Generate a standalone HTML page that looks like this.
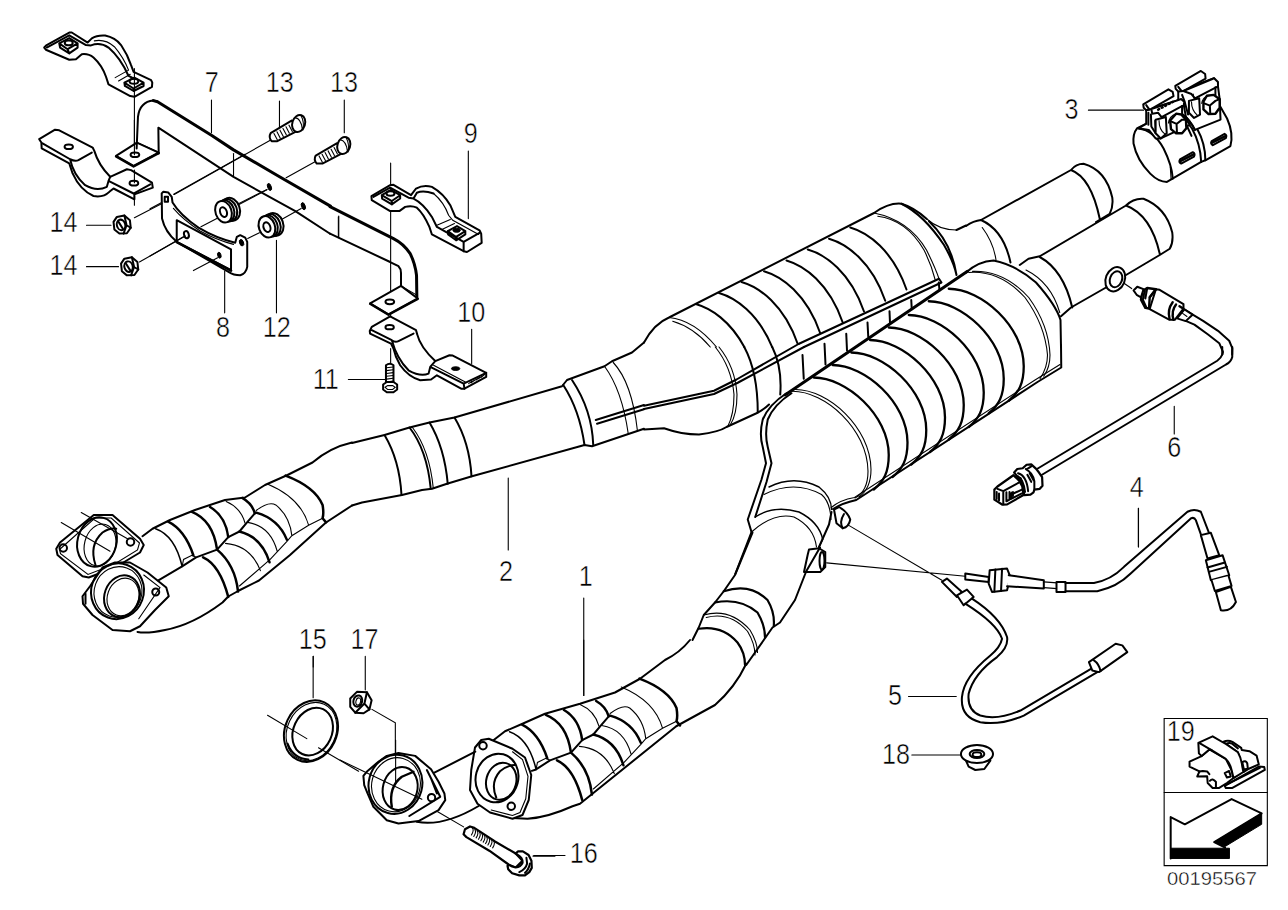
<!DOCTYPE html>
<html><head><meta charset="utf-8"><title>Exhaust system diagram</title>
<style>
html,body{margin:0;padding:0;background:#fff;}
body{width:1288px;height:910px;overflow:hidden;position:relative;font-family:"Liberation Sans",sans-serif;}
svg{position:absolute;left:0;top:0;display:block;}
svg path,svg ellipse,svg circle,svg line,svg polyline,svg polygon,svg rect{vector-effect:non-scaling-stroke;}
.k{fill:none;stroke:#000;stroke-width:2;stroke-linejoin:round;stroke-linecap:round;}
.w{fill:#fff;stroke:#000;stroke-width:2;stroke-linejoin:round;stroke-linecap:round;}
.t{fill:none;stroke:#000;stroke-width:1.1;stroke-linecap:round;}
.b{fill:#000;stroke:#000;stroke-width:1;}
text{font-family:"Liberation Sans",sans-serif;font-size:28.6px;fill:#000;stroke:#fff;stroke-width:0.5px;}
</style></head>
<body>
<svg width="1288" height="910" viewBox="0 0 1288 910">
<rect x="0" y="0" width="1288" height="910" fill="#fff" stroke="none"/>
<!--PIPES-->
<!--Q1: region 966,120 4x : outlet pipes, sensor 6 head -->
<g transform="translate(966,120) scale(0.25)">
<path class="k" d="M60,400 L420,200 Q500,230 535,395 M420,200 Q440,175 470,175 Q560,200 585,310 Q590,345 575,375 L520,408"/>
<path class="k" d="M0,424 Q30,403 60,400 Q150,440 178,570"/>
<path class="t" d="M65,430 Q110,490 120,560"/>
<path class="k" d="M215,580 L250,555 L295,545 L640,342 Q740,380 775,535 M640,342 Q670,312 710,315 Q800,350 825,450 Q830,490 815,515 L775,540 L640,620 M560,670 L420,750 L380,785"/>
<path class="k" d="M295,548 Q390,600 425,750"/>
<path class="t" d="M240,600 Q340,650 375,770"/>
<ellipse class="w" cx="597" cy="637" rx="38" ry="50" transform="rotate(22 597 637)"/>
<ellipse class="k" cx="600" cy="637" rx="24" ry="33" transform="rotate(22 600 637)"/>
<path class="k" d="M0,610 Q50,565 110,562 Q200,580 280,650 Q360,740 378,800 L380,908"/>
<!-- sensor 6 -->
</g>
<g transform="translate(1100,260) scale(0.12422)">
<path class="t" d="M190,185 L255,230"/>
<path class="k" d="M680,400 L740,435 L830,490 L950,570 L1040,650 L1065,710 L1064,760 M690,490 L760,520 L870,600 L960,670 L990,740 L985,760"/>
<path class="w" d="M620,470 L690,492 L745,440 L680,398 Z"/>
<path class="w" d="M450,235 L480,240 L672,355 L672,392 L602,482 L560,482 L400,395 Z"/>
<path class="k" style="stroke-width:2.4" d="M585,340 Q540,400 560,475 M612,358 Q570,412 592,482 M640,372 L672,392"/>
<path class="t" d="M600,380 Q580,410 590,440 M665,430 L700,455"/>
<path class="w" style="stroke-width:2.4" d="M340,250 L380,225 L450,235 L400,300 L395,390 L365,385 L330,320 Z"/>
<path class="k" d="M360,245 L345,320 L375,385 M380,228 L365,310 M400,300 L450,235"/>
<path class="w" d="M270,245 L300,215 L350,235 L330,300 L295,280 Z"/>
</g>
<!--C3: region 1050,50 6x : clamp 3 -->
<g transform="translate(1050,50) scale(0.167055)">
<path class="w" d="M520,470 Q495,500 500,560 Q520,660 600,740 Q650,790 700,790 L905,670 L930,660 L1080,575 Q1100,500 1060,410 L1020,340 L830,400 L580,440 Z"/>
<path class="k" style="stroke-width:2" d="M530,470 Q620,480 680,590 Q730,690 735,770"/>
<path class="t" d="M720,700 L725,775"/>
<path class="k" d="M905,670 Q900,560 850,470 L820,430 M930,660 Q930,560 880,470 Q860,430 830,400"/>
</g>
<g transform="translate(1130,65) scale(0.0854)">
<!-- right bracket -->
<path class="w" d="M565,310 L565,420 L620,580 Q700,640 760,760 L1060,640 L1050,400 L1030,250 L985,155 Z"/>
<path class="w" d="M530,245 L830,70 L880,105 L885,160 L625,305 L565,310 L535,280 Z"/>
<path class="w" d="M625,305 L985,155 L1030,200 L1030,250 L760,390 L720,340 Z"/>
<path class="k" d="M565,255 L600,300 M610,350 L640,430 L680,580 M1000,260 L1000,390"/>
<path class="w" d="M690,420 L810,390 L820,580 L750,620 L690,560 Z"/>
<path class="t" d="M720,430 Q720,530 790,590 M740,340 L750,390"/>
<path class="w" style="stroke-width:2.4" d="M860,430 L900,360 L980,350 L1050,400 L1050,500 L1000,570 L920,575 L860,520 Z"/>
<path class="k" d="M935,475 L1000,420 L1050,400 M935,475 L870,450 M935,475 L940,570"/>
<path class="t" d="M840,450 Q850,380 910,362"/>
<!-- left bracket -->
<path class="w" d="M190,530 L190,690 L100,740 L220,760 L300,860 L360,860 L700,700 L660,640 L630,470 L600,400 Z"/>
<path class="w" d="M155,460 L450,285 L500,315 L510,365 L250,515 L190,530 L160,500 Z"/>
<path class="w" d="M250,515 L600,400 L635,430 L630,470 L370,610 L330,560 L260,570 Z"/>
<path class="k" style="stroke-width:2.6;stroke-dasharray:1 3" d="M330,522 L500,432"/>
<path class="k" d="M190,470 L225,520 M215,560 L215,700 M245,580 L250,720 L300,800 M610,480 L610,570"/>
<path class="w" d="M300,640 L420,610 L430,800 L360,860 L300,800 Z"/>
<path class="t" d="M340,650 Q340,760 410,810 M290,650 L295,760"/>
<path class="w" style="stroke-width:2.4" d="M470,650 L540,570 L600,580 L655,640 L660,740 L610,800 L540,800 L480,750 Z"/>
<path class="k" d="M545,690 L610,640 L655,640 M545,690 L480,660 M545,690 L550,795"/>
<path class="t" d="M450,680 Q460,600 540,572"/>
<path class="k" d="M620,580 Q700,640 760,760 M660,700 L720,830"/>
</g>
<g transform="translate(1050,50) scale(0.167055)">
<path class="k" style="stroke-width:2.5" d="M780,665 L860,625 M970,555 L1050,515"/>
<path class="k" d="M778,655 L855,612 Q872,620 862,638 L785,680 Q768,672 778,655 Z M968,545 L1045,502 Q1062,510 1052,528 L975,570 Q958,562 968,545 Z"/>
<path class="t" d="M230,360 L560,360"/>
</g>
<!--Q2: region 644,120 4x : upper cat body -->
<g transform="translate(644,120) scale(0.25)">
<path class="k" d="M0,890 Q40,815 100,790 L920,372 Q980,330 1030,335 Q1080,350 1130,395"/>
<path class="t" d="M1130,395 Q1180,440 1250,440"/>
<path class="k" d="M1250,440 L1288,422 M1030,335 Q1120,380 1200,500 Q1240,570 1250,620 M1140,405 Q1230,490 1250,620"/>
<path class="t" d="M920,372 Q1060,400 1130,520 Q1165,590 1180,635 M935,385 Q1050,400 1120,520 Q1150,580 1165,640"/>
<path class="t" d="M100,790 Q200,800 290,908 M115,805 Q200,830 265,908"/>
<path class="k" style="stroke-width:2" d="M210,737 c57.4,16.4 135,66.4 191.3,171 M300,692 c65.1,18.6 156.1,80.4 212.8,216.1 M390,648 c70,20 170,90 225,248 M480,605 c70,20 170,90 225,248 M570,562 c70,20 170,90 225,248 M655,518 c70,20 170,90 225,248 M740,475 c70,20 170,90 225,248 M825,430 c70,20 170,90 225,248"/>
<path class="k" d="M620,895 L1180,635 L1190,650 L640,908"/>
</g>

<!--LC: region 760,250 4x : lower cat body -->
<g transform="translate(760,250) scale(0.25)">
<path class="k" style="stroke-width:3" d="M100,580 L830,85"/>
<path class="k" d="M170,420 L175,515 M258,375 L262,458 M345,335 L348,402 M430,290 L433,347 M518,245 L520,292 M605,200 L607,237 M715,130 L718,162"/>
<path class="k" style="stroke-width:2.3" d="M755,155 c130,0 300,150 300,310 c0,70 -20,105 -60,138 M675,205 c130,0 300,150 300,310 c0,70 -20,105 -60,138 M595,260 c130,0 300,150 300,310 c0,70 -20,105 -60,138 M515,310 c130,0 300,150 300,310 c0,70 -20,105 -60,138 M440,360 c130,0 300,150 300,310 c0,70 -20,105 -60,138 M365,410 c130,0 300,150 300,310 c0,70 -20,105 -60,138 M290,460 c130,0 300,150 300,310 c0,70 -20,105 -60,138 M215,510 c130,0 300,150 300,310 c0,70 -20,105 -60,138"/>
<path class="t" d="M130,565 c130,0 300,150 302,320 c0,60 -20,90 -52,107 M142,558 c130,0 300,150 302,320 c0,60 -20,90 -48,110"/>
<path class="t" d="M835,90 Q960,80 1060,190 Q1140,300 1150,420 Q1150,470 1120,515 M850,85 Q975,80 1075,190 Q1155,300 1160,420 Q1160,470 1135,505"/>
<path class="k" d="M1204,380 L1205,470 L1110,528 L385,1000 Q330,1012 292,1036"/>
<path class="t" d="M1200,458 L1100,520 L378,990 Q320,1000 285,1030"/>
</g>
<!--Q3: region 644,347 4x : cat fronts -->
<g transform="translate(644,347) scale(0.25)">
<path class="k" d="M0,235 L280,175 L370,130 L620,-13 M0,248 L280,188 L375,143 L640,0"/>
<path class="k" d="M0,330 L80,325 Q150,350 220,350 Q300,340 330,320 L450,265 Q480,250 500,230"/>
<path class="t" d="M285,0 Q350,80 360,190 Q360,270 335,318 M300,0 Q365,80 372,190 Q372,270 345,312"/>
<path class="k" d="M401,0 Q455,100 455,262 M513,0 Q553,80 545,190"/>
<path class="k" d="M570,185 Q500,230 475,290 Q460,350 475,400 L488,465 L470,530 L415,690 L430,740 M590,185 Q520,230 495,290 Q482,350 495,400 L510,465 L490,540 L445,680"/>
<path class="k" style="stroke-width:1.4" d="M500,560 Q600,510 700,560 Q750,600 750,650 M445,680 Q520,630 620,660 Q700,700 715,770 L700,800"/>
<path class="t" d="M480,590 Q600,530 710,590 Q745,620 748,690 M430,740 Q520,660 600,680 Q680,720 690,800"/>
<path class="k" d="M430,740 L365,908 M750,660 L740,710 L700,800"/>
<path class="w" d="M760,650 L780,640 Q815,660 825,690 Q820,720 795,725 L770,705 Z"/>
<path class="k" d="M795,725 Q780,700 800,668"/>
<path class="w" d="M660,810 L700,805 L725,820 L725,880 L705,900 L640,900 L655,830 Z"/>
<ellipse class="k" cx="712" cy="855" rx="10" ry="35"/>
</g>
<!--Q4: region 966,347 4x : lower cat end, cable 6, label 6/4 -->
<g transform="translate(966,347) scale(0.25)">
<path class="k" d="M1065,0 L1065,40 Q1060,60 1040,70 L304,511 M1025,0 L1025,30 Q1020,45 1005,55 L287,486"/>
<path class="t" d="M833,237 L833,348 M690,645 L690,800"/>
</g>
<!--C6: connector 6, region 980,450 12.88x -->
<g transform="translate(980,450) scale(0.07764)">
<path class="w" style="stroke-width:2.2" d="M440,290 L480,245 L550,235 L600,190 L660,185 L720,240 L760,290 L800,350 L805,460 L770,500 L700,510 L690,545 L650,575 L570,580 L540,420 Z"/>
<path class="k" d="M590,245 Q680,290 700,400 L700,500 M490,300 Q600,330 620,530 M490,340 Q560,380 580,540 M600,250 L660,210 M640,300 L690,390 M610,320 L660,410"/>
<path class="w" style="stroke-width:2.2" d="M185,510 L225,470 L430,325 L505,395 L545,470 L560,580 L350,700 L290,705 L185,640 Z"/>
<path class="k" d="M225,500 L300,530 L300,700 M300,530 L500,420 M340,545 L340,660 L380,640 L380,540 M400,560 L400,630 L540,560 M430,560 L540,510 M215,540 L215,630 M245,560 L245,650 M520,360 L560,470"/>
<path class="b" d="M400,545 L430,535 L430,600 L400,610 Z"/>
</g>
<!--S1: region 840,480 3x : sensors 4,5, nut 18 -->
<g transform="translate(840,480) scale(0.33411)">
<path class="t" d="M25,135 L305,300 M-40,248 L375,288"/>
<path class="w" d="M375,280 L445,290 L445,305 L375,298 Z"/>
<path class="w" style="stroke-width:2" d="M448,270 L500,265 L510,290 L500,330 L455,335 L445,310 Z"/>
<path class="k" d="M465,268 L462,334 M485,266 L482,332"/>
<path class="w" d="M505,285 L610,300 L610,325 L500,318"/>
<path class="t" d="M610,305 L650,308 M610,322 L650,325"/>
<rect class="w" x="648" y="305" width="27" height="30"/>
<path class="k" d="M675,308 L760,308 Q810,300 850,260 L1040,95 Q1060,85 1080,95 L1105,160 M675,333 L770,333 Q830,320 870,280 L1050,115 Q1060,110 1065,120 L1082,168"/>
<path class="w" d="M1080,165 L1110,158 L1135,225 L1100,235 Z"/>
<path class="w" style="stroke-width:2" d="M1095,240 L1145,225 L1165,285 L1110,300 Z"/>
<path class="k" d="M1100,262 L1152,247 M1104,275 L1158,260"/>
<path class="w" d="M1112,300 L1122,332 L1172,317 L1163,287"/>
<path class="w" d="M1125,335 L1170,320 L1185,365 Q1170,395 1140,390 Z"/>
<path class="t" d="M893,85 L893,200"/>
<!-- sensor 5 -->
<path class="w" d="M305,305 L320,295 L365,335 L350,350 Z"/>
<path class="w" d="M350,345 L380,328 L400,350 L370,375 Z"/>
<path class="k" d="M395,355 Q480,410 500,470 Q505,500 470,530 Q400,580 385,640 Q380,690 420,705 Q470,720 540,690 L760,560 M375,370 Q470,430 485,475 Q480,500 450,525 Q370,590 365,650 Q360,710 420,725 Q480,735 550,705 L770,575"/>
<path class="w" d="M745,545 L825,490 L845,495 L860,515 L775,575 L755,570 Z"/>
<path class="k" d="M760,540 Q775,550 780,572"/>
<path class="t" d="M205,648 L348,648 M215,823 L362,823"/>
<!-- nut 18 -->
<path class="w" d="M375,835 L385,858 L405,868 L432,865 L450,840 Z"/>
<ellipse class="w" cx="410" cy="820" rx="48" ry="27"/>
<ellipse class="k" cx="410" cy="820" rx="22" ry="12"/>
<ellipse class="k" cx="410" cy="822" rx="13" ry="7"/>
</g>
<!--Q5: region 322,300 4x : pipe 2 middle -->
<g transform="translate(322,300) scale(0.25)">
<path class="k" d="M120,572 L250,540 L350,510 L430,490 L530,470 L960,345 L980,320 L1130,265 L1160,245 L1240,210 L1288,170"/>
<path class="k" d="M120,822 L160,810 L320,780 L400,760 L440,755 L500,735 L600,705 L1050,580 L1080,585 L1288,515"/>
<path class="k" d="M250,540 Q310,640 318,780 M350,510 Q420,600 435,755 M430,490 Q490,590 503,735 M530,470 Q590,570 598,705"/>
<path class="t" d="M362,510 Q430,600 445,752"/>
<path class="k" d="M965,340 Q1030,440 1050,580 M1000,320 Q1080,440 1085,580"/>
<path class="t" d="M1130,265 Q1200,360 1225,535 M1165,250 Q1240,330 1262,525"/>
<path class="k" d="M1095,480 L1288,420 M1100,495 L1288,437"/>
<path class="t" d="M745,712 L745,1000"/>
</g>
<!--Q6: region 30,440 4x : pipe 2 front with flanges -->
<g transform="translate(30,440) scale(0.25)">
<path class="k" d="M1288,10 Q1200,30 1130,90 L1030,140 L940,180 L860,230 L780,240 L660,280 L560,320 L490,355 L450,385"/>
<path class="k" d="M1288,262 L1184,330 L1039,461 L916,562 L838,601 L793,626 L770,650 Q650,740 540,760 Q470,775 430,768"/>
<!-- flange 1 -->
<path class="w" style="stroke-width:2" d="M105,435 L120,410 L255,300 L330,300 L440,395 L455,420 L440,450 L340,510 L235,550 L210,545 L110,460 Z"/>
<path class="t" d="M118,438 L260,312 L325,312 L438,412 L430,440 L335,498 L232,538 L122,455 Z"/>
<circle class="k" cx="133" cy="432" r="15"/><circle class="k" cx="402" cy="408" r="15"/>
<ellipse class="k" cx="268" cy="408" rx="78" ry="100" transform="rotate(15 268 408)"/>
<ellipse class="t" cx="280" cy="420" rx="62" ry="85" transform="rotate(15 280 420)"/>
<path class="k" d="M262,500 Q235,420 290,370 Q320,350 345,355"/>
<path class="t" d="M205,290 L390,395 M125,330 L320,445"/>
<!-- flange 2 -->
<path class="w" style="stroke-width:2" d="M210,625 L240,585 L290,510 L340,490 L400,490 L470,530 L545,590 L555,625 L500,680 L440,745 L400,765 L330,760 L250,700 L212,655 Z"/>
<ellipse class="k" cx="350" cy="605" rx="105" ry="112" transform="rotate(20 350 605)"/>
<ellipse class="t" cx="352" cy="608" rx="95" ry="102" transform="rotate(20 352 608)"/>
<ellipse class="k" cx="368" cy="625" rx="70" ry="85" transform="rotate(20 368 625)"/>
<ellipse class="t" cx="372" cy="628" rx="62" ry="77" transform="rotate(20 372 628)"/>
<circle class="k" cx="503" cy="608" r="14"/>
<path class="k" d="M222,615 L222,655"/>
<path class="t" d="M1133,865 L1133,908 M455,540 L520,590 L435,715"/>
</g>
<!--Y2: region 150,470 7.16x : pipe 2 Y-section ribs -->
<g transform="translate(150,470) scale(0.13975)">
<path class="k" d="M60,790 L230,690 L330,625 L480,570 L560,480 L640,440 L690,380 L750,310"/>
<path class="t" d="M230,690 L240,640 L300,610 L330,625"/>
<path class="k" style="stroke-width:2.5" d="M130,370 Q250,430 310,610 M300,300 Q450,360 480,570 M430,265 Q540,330 560,480 M660,200 Q730,240 750,310 M380,625 Q500,680 560,908 M480,570 Q610,680 630,870 M640,440 Q800,480 855,660 M760,305 Q920,350 980,500 M970,40 Q1180,120 1235,250 Q1245,310 1235,345 L1260,375"/>
<path class="k" style="stroke-width:1.5" d="M40,420 Q180,470 230,690"/>
<path class="t" d="M545,225 Q650,270 680,380 M540,525 Q720,540 790,720 M700,375 Q860,400 910,580 M760,290 Q850,220 900,250 Q1000,330 1015,470 M840,100 Q1080,200 1135,395 M640,830 L860,640 L980,510 L1015,470 L1135,395 L1235,345"/>
</g>
<!--Y1: region 500,680 7.16x : pipe 1 Y-section ribs (same geometry as Y2 shifted) -->
<g transform="translate(500,680) scale(0.13975) translate(28,-50)">
<path class="k" d="M200,700 L230,690 L330,625 L480,570 L560,480 L640,440 L690,380 L750,310"/>
<path class="t" d="M230,690 L240,640 L300,610 L330,625"/>
<path class="k" style="stroke-width:2.5" d="M130,370 Q250,430 310,610 M300,300 Q450,360 480,570 M430,265 Q540,330 560,480 M660,200 Q730,240 750,310 M380,625 Q500,680 560,908 M480,570 Q610,680 630,870 M640,440 Q800,480 855,660 M760,305 Q920,350 980,500 M970,40 Q1180,120 1235,250 Q1245,310 1235,345 L1260,375"/>
<path class="k" style="stroke-width:1.5" d="M40,420 Q180,470 230,690"/>
<path class="t" d="M545,225 Q650,270 680,380 M540,525 Q720,540 790,720 M700,375 Q860,400 910,580 M760,290 Q850,220 900,250 Q1000,330 1015,470 M840,100 Q1080,200 1135,395 M640,830 L860,640 L980,510 L1015,470 L1135,395 L1235,345"/>
</g>
<!--Q8: region 560,500 4x : pipe 1 middle -->
<g transform="translate(560,500) scale(0.25)">
<path class="k" d="M770,130 L700,300 L655,365 L620,410 L575,460 L555,510 L530,560"/>
<path class="k" d="M1040,190 L985,285 L940,400 L880,490 L850,510 L745,660"/>
<path class="k" style="stroke-width:2.2" d="M655,365 Q760,330 830,400 Q860,450 855,505 M620,410 Q720,390 790,450 Q820,500 820,550 M555,515 Q650,500 710,570 Q740,610 740,660"/>
<path class="t" d="M575,460 Q680,430 760,520 Q790,570 790,610 M585,470 Q680,445 750,525 Q780,575 780,620"/>
<path class="t" d="M95,392 L95,782"/>
</g>
<!--Q7: region 440,640 4x : pipe 1 front -->
<g transform="translate(440,640) scale(0.25)">
<path class="k" d="M1000,0 Q960,50 900,80 L800,155 L700,210 L560,255 L420,295 L330,335 L260,365 L215,400"/>
<path class="k" d="M1225,95 Q1180,190 1100,260 L945,345 L560,655 L530,665 Q430,710 350,715 L290,712"/>
<!-- flange right -->
<path class="w" style="stroke-width:2" d="M140,430 L165,400 L195,395 L290,435 L340,470 L365,540 L355,640 L330,700 L290,715 L200,690 L150,655 L120,600 L125,520 Z"/>
<path class="t" d="M290,447 L330,478 L352,545 L343,635 L320,690 L290,702 L205,680"/>
<circle class="k" cx="172" cy="423" r="15"/><circle class="k" cx="285" cy="665" r="15"/>
<ellipse class="k" cx="228" cy="552" rx="85" ry="98" transform="rotate(15 228 552)"/>
<ellipse class="k" cx="245" cy="565" rx="60" ry="75" transform="rotate(15 245 565)"/>
<path class="k" d="M225,630 Q200,570 240,525 Q270,500 300,500"/>
<path class="t" d="M575,0 L575,222 M375,862 L500,862"/>
</g>
<!--R1: region 30,20 6x-->
<g transform="translate(30,20) scale(0.167055)">
<path class="w" d="M85,165 L100,150 L235,75 L250,75 L345,135 L370,110 Q400,90 450,93 Q510,105 545,150 Q585,210 605,270 L620,310 L725,360 L732,375 L730,400 L625,460 L600,455 L470,385 L455,340 Q430,270 380,225 Q350,200 310,205 L275,235 L235,238 L95,178 Z"/>
<path class="k" d="M100,165 L235,92 L335,150 L365,152 Q420,130 470,165 Q540,225 590,335 L620,350"/>
<path class="t" d="M385,125 Q450,112 505,160 Q560,225 590,300 M510,345 L590,300 M530,365 L600,325"/>
<path class="k" d="M175,140 L235,108 L285,140 L225,175 Z M175,140 L180,165 L235,200 L225,175 M235,200 L285,165 L285,140"/>
<ellipse class="k" cx="232" cy="137" rx="24" ry="14"/>
<path class="k" d="M565,375 L625,345 L680,375 L620,410 Z M565,375 L568,395 L620,425 L620,410 M620,425 L680,395 L680,375"/>
<ellipse class="k" cx="622" cy="367" rx="26" ry="15"/>
<path class="t" d="M625,290 L625,800"/>
</g>
<!--R2: region 30,120 6x-->
<g transform="translate(30,120) scale(0.167055)">
<path class="w" d="M55,115 L150,58 L175,62 L375,165 L385,185 Q410,270 480,340 L580,295 L605,300 L730,375 L735,405 L625,445 L625,475 L500,410 L475,430 Q440,465 380,455 Q300,420 255,320 L235,260 L70,170 L68,135 Z"/>
<path class="k" d="M75,140 L240,235 Q270,250 290,240 L370,195 M240,235 Q260,330 330,390 Q400,430 460,400 L470,365 L480,340 M470,365 L620,440 L720,385"/>
<ellipse class="k" cx="232" cy="160" rx="25" ry="14"/>
<ellipse class="k" cx="622" cy="378" rx="26" ry="14"/>
<path class="t" d="M625,300 L625,375 M625,445 L625,510"/>
</g>
<!--R2b: bracket 7 foot etc, region 30,120 6x-->
<g transform="translate(30,120) scale(0.167055)">
<path class="w" d="M515,215 L640,135 L770,195 L620,275 Z"/>
<path class="k" style="stroke-width:2.4" d="M515,218 L620,278 L770,198"/>
<ellipse class="k" cx="628" cy="208" rx="26" ry="14"/>
<path class="t" d="M640,135 L760,188 M625,0 L625,208"/>
</g>
<!--R3: region 150,60 6x : bar, bolts 13-->
<g transform="translate(150,60) scale(0.167055)">
<path class="k" d="M-80,530 L-72,340 Q-60,250 20,243 L45,248"/>
<path class="k" style="stroke-width:3" d="M20,243 L45,250 L370,452 L500,538 L760,690 L1080,875"/>
<path class="k" style="stroke-width:2" d="M52,560 L50,405 L500,700 L870,905 L1078,1040"/>
<path class="t" d="M500,560 L500,695"/>
<!-- bolt 1 -->
<path class="w" d="M850,362 L722,438 Q708,462 728,486 L762,486 L882,424 Z"/>
<path class="t" d="M742,440 L762,478 M760,430 L780,468 M778,420 L798,458 M796,410 L816,448 M814,400 L834,438 M832,390 L852,428"/>
<ellipse class="w" cx="890" cy="380" rx="38" ry="52" transform="rotate(18 890 380)"/>
<path class="t" d="M868,345 Q905,350 912,415 M905,335 Q925,370 915,420"/>
<!-- bolt 2 -->
<path class="w" d="M1120,498 L992,572 Q978,596 998,620 L1032,620 L1152,558 Z"/>
<path class="t" d="M1012,574 L1032,612 M1030,564 L1050,602 M1048,554 L1068,592 M1066,544 L1086,582 M1084,534 L1104,572 M1102,524 L1122,562"/>
<ellipse class="w" cx="1160" cy="512" rx="38" ry="52" transform="rotate(18 1160 512)"/>
<path class="t" d="M1138,477 Q1175,482 1182,547 M1175,467 Q1195,502 1185,552"/>
<path class="t" d="M368,240 L368,435 M775,245 L775,405 M1163,240 L1163,435 M720,480 L145,805 M985,610 L815,705 M700,775 L530,860"/>
<ellipse class="b" cx="715" cy="760" rx="11" ry="22" transform="rotate(-20 715 760)"/>
<ellipse class="b" cx="918" cy="875" rx="11" ry="22" transform="rotate(-20 918 875)"/>
</g>
<!--R4: region 150,160 6x : plate 8, grommets-->
<g transform="translate(150,160) scale(0.167055)">
<path class="w" d="M70,200 L80,190 L110,195 L130,220 L135,255 Q180,330 290,405 Q400,470 510,495 L520,460 L540,450 L570,465 L582,490 L582,640 Q575,680 540,690 Q500,690 470,670 L160,490 Q90,430 72,350 Z"/>
<path class="t" d="M140,290 Q200,360 300,425 Q400,480 500,505"/>
<path class="w" d="M160,360 L485,535 L485,660 L160,490 Z"/>
<path class="k" style="stroke-width:2.6" d="M160,492 L485,662"/>
<rect class="k" x="88" y="220" width="20" height="30"/>
<ellipse class="b" cx="548" cy="495" rx="12" ry="20" transform="rotate(-20 548 495)"/>
<ellipse class="k" cx="218" cy="447" rx="14" ry="22" transform="rotate(-15 218 447)"/>
<ellipse class="b" cx="415" cy="570" rx="10" ry="18" transform="rotate(-15 415 570)"/>
<!-- grommet 1 -->
<ellipse class="w" cx="485" cy="295" rx="52" ry="70" transform="rotate(-20 485 295)"/>
<ellipse class="w" cx="470" cy="300" rx="50" ry="68" transform="rotate(-20 470 300)"/>
<ellipse class="w" cx="455" cy="305" rx="48" ry="66" transform="rotate(-20 455 305)"/>
<ellipse class="w" cx="440" cy="310" rx="48" ry="66" transform="rotate(-20 440 310)"/>
<ellipse class="k" cx="440" cy="312" rx="20" ry="30" transform="rotate(-20 440 312)"/>
<!-- grommet 2 -->
<ellipse class="w" cx="745" cy="385" rx="52" ry="70" transform="rotate(-20 745 385)"/>
<ellipse class="w" cx="730" cy="390" rx="50" ry="68" transform="rotate(-20 730 390)"/>
<ellipse class="w" cx="715" cy="395" rx="48" ry="66" transform="rotate(-20 715 395)"/>
<ellipse class="w" cx="700" cy="400" rx="48" ry="66" transform="rotate(-20 700 400)"/>
<ellipse class="k" cx="700" cy="402" rx="20" ry="30" transform="rotate(-20 700 402)"/>
<path class="t" d="M1130,335 L1130,465 M0,292 L70,255 M305,400 L400,350 M530,268 L700,178 M585,470 L655,435 M790,355 L905,290 M0,575 L200,460 M260,662 L405,585 M447,665 L447,915 M757,480 L757,915"/>
</g>
<!--R5: region 330,110 6x : clamp 9 -->
<g transform="translate(330,110) scale(0.167055)">
<path class="w" d="M248,515 L360,450 L380,448 L485,510 L515,470 Q560,445 610,460 Q680,500 720,570 L750,640 L895,720 L905,740 L908,795 L820,850 L800,845 L610,745 L595,700 Q560,620 520,585 Q490,570 450,580 L415,605 L360,605 L250,540 Z"/>
<path class="k" d="M260,520 L360,465 L470,525 L500,530 Q560,560 610,640 L640,700 L800,790 L800,845 M800,790 L895,735 M500,530 L520,495 Q560,480 620,500"/>
<path class="t" d="M620,500 Q680,550 710,630 L735,660 L890,745 M640,690 L720,655 M670,715 L745,680"/>
<path class="k" d="M310,510 L365,478 L420,510 L370,545 Z M310,510 L312,530 L370,565 L370,545 M370,565 L420,530 L420,510"/>
<ellipse class="k" cx="362" cy="500" rx="24" ry="13"/>
<path class="k" d="M705,725 L760,695 L810,725 L755,760 Z M705,725 L707,745 L755,780 L755,760 M755,780 L810,745 L810,725"/>
<ellipse class="b" cx="758" cy="720" rx="22" ry="12"/>
<path class="t" d="M363,318 L363,450 M363,605 L363,1150 M828,245 L828,650 M50,640 L50,760"/>
<!-- bar right end -->
<path class="k" style="stroke-width:3" d="M0,578 L380,770 Q440,800 480,860 Q510,920 518,990 L520,1130"/>
<path class="k" style="stroke-width:2" d="M0,740 L360,910 L410,935 Q425,950 425,975 L425,1055"/>
</g>
<!--R6: region 330,250 6x : bar foot right, clamp 10, bolt 11 -->
<g transform="translate(330,250) scale(0.167055)">
<path class="w" d="M240,320 L425,215 L525,290 L350,385 Z"/>
<path class="k" style="stroke-width:2.4" d="M240,322 L350,388 L525,293"/>
<ellipse class="k" cx="358" cy="310" rx="26" ry="14"/>
<path class="t" d="M425,215 L520,270 M363,385 L363,465 M363,590 L363,680"/>
<path class="w" d="M238,485 L250,460 L360,398 L515,480 L522,505 Q540,580 630,665 L715,630 L735,632 L935,735 L935,760 L805,830 L785,830 L640,750 L605,775 L540,780 Q470,760 420,690 Q390,640 380,590 L365,560 L240,500 Z"/>
<path class="k" d="M250,480 L370,540 Q390,555 410,545 L500,500 M370,540 Q400,650 470,720 Q540,760 590,740 L600,700 L630,665 M600,700 L800,800 L805,830 M800,800 L935,735"/>
<path class="t" d="M620,690 L810,790 M830,800 L850,785 M845,795 L865,778 M860,785 L880,770 M875,778 L895,762 M890,770 L910,755 M905,762 L925,745"/>
<ellipse class="k" cx="357" cy="462" rx="25" ry="13"/>
<ellipse class="b" cx="752" cy="710" rx="25" ry="11"/>
<!-- bolt 11 -->
<path class="w" d="M335,690 Q358,672 380,690 L380,800 L335,800 Z"/>
<path class="t" d="M338,705 L378,700 M338,722 L378,717 M338,739 L378,734 M338,756 L378,751 M338,773 L378,768 M338,790 L378,785"/>
<path class="w" d="M318,805 L340,790 L380,790 L402,805 L402,835 L380,852 L340,852 L318,835 Z"/>
<path class="t" d="M330,822 L345,812 L375,812 L390,822 L375,835 L345,835 Z"/>
<path class="t" d="M848,475 L848,680 M110,775 L335,775"/>
</g>
<!--E1: region 250,620 6x : ring 15, nut 17 -->
<g transform="translate(250,620) scale(0.167055)">
<ellipse class="k" style="stroke-width:2" cx="365" cy="665" rx="155" ry="190" transform="rotate(25 365 665)"/>
<ellipse class="t" cx="368" cy="668" rx="145" ry="180" transform="rotate(25 368 668)"/>
<ellipse class="k" style="stroke-width:2" cx="375" cy="668" rx="115" ry="148" transform="rotate(25 375 668)"/>
<path class="k" d="M225,740 Q260,830 350,835"/>
<path class="t" d="M105,570 L340,710 M410,765 L650,905 M378,218 L378,465 M690,218 L690,418 M730,535 L870,615 L870,905"/>
<path class="w" style="stroke-width:2" d="M600,470 L640,430 L700,432 L728,480 L715,535 L680,558 L630,555 L600,520 Z"/>
<path class="k" d="M700,432 L685,500 L715,535 M685,500 L630,555"/>
<ellipse class="k" cx="645" cy="485" rx="26" ry="34" transform="rotate(15 645 485)"/>
<ellipse class="t" cx="648" cy="488" rx="14" ry="22" transform="rotate(15 648 488)"/>
</g>
<!--E2: region 340,740 6x : flange left of pipe 1, bolt 16 -->
<g transform="translate(340,740) scale(0.167055)">
<path class="k" d="M565,195 L810,70 M460,490 Q620,520 830,395"/>
<path class="w" style="stroke-width:2" d="M140,215 L165,185 L230,130 L280,95 L350,78 L450,95 L545,175 L590,250 L625,320 L630,360 L590,420 L470,485 L350,500 L280,480 L200,400 L165,320 L145,270 Z"/>
<ellipse class="k" cx="332" cy="265" rx="160" ry="178" transform="rotate(15 332 265)"/>
<ellipse class="t" cx="335" cy="268" rx="145" ry="163" transform="rotate(15 335 268)"/>
<ellipse class="k" cx="360" cy="290" rx="103" ry="130" transform="rotate(15 360 290)"/>
<path class="k" style="stroke-width:2.4" d="M310,400 Q290,280 370,220 L440,190"/>
<circle class="k" cx="548" cy="345" r="22"/>
<path class="k" d="M520,180 L600,340 L415,455 M545,230 L580,320"/>
<path class="t" d="M0,120 L490,355 M333,0 L333,260 M585,430 L740,520 M1155,695 L1287,695"/>
<!-- bolt 16 -->
</g>
<g transform="translate(455,815) scale(0.071429)">
<path class="w" style="stroke-width:2.2" d="M120,270 L140,200 L210,160 L270,180 L560,370 L850,540 L945,640 L850,735 L760,700 L480,500 L160,310 Z"/>
<path class="t" d="M245,185 q25,30 -15,95 M278,205 q25,30 -15,95 M311,225 q25,30 -15,95 M344,245 q25,30 -15,95 M377,265 q25,30 -15,95 M410,285 q25,30 -15,95 M443,305 q25,30 -15,95 M476,325 q25,30 -15,95 M509,345 q25,30 -15,95 M542,365 q25,30 -15,95"/>
<path class="w" style="stroke-width:2.2" d="M850,540 L880,510 L950,510 L1030,560 L1070,640 L1075,740 L1040,800 L980,845 L900,845 L800,815 L745,760 L735,710 L760,700 L800,720 L850,735 Q920,730 945,670 Q950,600 880,560 Z"/>
<path class="k" d="M1000,600 L1010,680 Q990,760 900,800 M1050,680 Q1030,770 980,810"/>
</g>
<!--B1: region 1150,705 : box 19 + arrow -->
<g transform="translate(1150,705) scale(0.21767)">
<rect class="t" x="65" y="62" width="474" height="676"/>
<path class="t" d="M65,402 L539,402"/>
<path class="b" d="M95,658 L365,658 L365,705 L95,705 Z"/>
<path class="b" d="M513,498 L513,548 L345,650 L295,630 Z"/>
<path class="k" d="M95,705 L95,515 L160,548 L375,432 L513,498 L295,630 L345,655"/>
<!-- clip 19 -->
</g>
<g transform="translate(1150,705) scale(0.10987)">
<path class="w" d="M360,515 L470,465 L540,405 L690,490 L745,600 L760,665 L700,710 L630,755 L570,755 L525,710 L520,648 L430,650 L450,605 L360,560 Z"/>
<path class="w" d="M665,335 Q710,315 750,335 L830,390 L835,410 L905,420 L970,460 L990,540 L900,580 L850,610 L800,430 Z"/>
<path class="k" d="M690,355 Q720,340 745,350 L800,395"/>
<path class="w" d="M840,520 Q870,500 885,530 L890,575 L855,590 Z"/>
<path class="w" d="M440,345 L570,285 L690,355 L800,430 Q830,480 840,560 L850,610 L760,665 L745,600 Q730,530 690,490 L560,410 L540,405 L470,465 L445,440 Z"/>
<path class="k" d="M455,350 L560,410 M450,605 L480,600 L520,605 L540,630 M545,690 Q570,660 600,700 L600,750"/>
<path class="w" d="M680,620 L720,600 L735,650 L700,660 Z"/>
<path class="w" d="M680,735 L990,560 L1040,565 L1045,590 L750,755 L690,755 Z"/>
<path class="k" d="M700,722 L1000,572"/>
</g>
<!--N14: nuts 14, region 30,120 6x -->
<g transform="translate(30,120) scale(0.167055)">
<path class="w" style="stroke-width:2" d="M500,610 L520,580 L565,572 L598,600 L603,645 L580,678 L535,680 L505,655 Z"/>
<ellipse class="k" cx="545" cy="628" rx="25" ry="32" transform="rotate(-15 545 628)"/>
<path class="k" d="M565,572 L578,630 L603,645 M578,630 L560,680 M530,610 L555,650"/>
<path class="w" style="stroke-width:2" d="M545,860 L565,830 L610,822 L643,850 L648,895 L625,928 L580,930 L550,905 Z"/>
<ellipse class="k" cx="590" cy="878" rx="25" ry="32" transform="rotate(-15 590 878)"/>
<path class="k" d="M610,822 L623,880 L648,895 M623,880 L605,930 M575,860 L600,900"/>
<path class="t" d="M338,630 L485,630 M338,878 L530,878 M625,585 L790,500 M655,850 L930,695 M860,445 L1287,205"/>
</g>
<!--TEXT-->
<text transform="translate(204.7,91.7) scale(0.88,1)">7</text>
<text transform="translate(265.7,91.7) scale(0.88,1)">13</text>
<text transform="translate(330.0,91.7) scale(0.88,1)">13</text>
<text transform="translate(49.6,231.6) scale(0.88,1)">14</text>
<text transform="translate(49.5,274.6) scale(0.88,1)">14</text>
<text transform="translate(215.9,337.4) scale(0.88,1)">8</text>
<text transform="translate(262.7,337.4) scale(0.88,1)">12</text>
<text transform="translate(312.7,389.2) scale(0.88,1)">11</text>
<text transform="translate(463.7,142.6) scale(0.88,1)">9</text>
<text transform="translate(457.3,321.8) scale(0.88,1)">10</text>
<text transform="translate(1064.6,118.5) scale(0.88,1)">3</text>
<text transform="translate(1167.2,457.0) scale(0.88,1)">6</text>
<text transform="translate(1129.7,497.0) scale(0.88,1)">4</text>
<text transform="translate(888.1,704.5) scale(0.88,1)">5</text>
<text transform="translate(882.1,764.0) scale(0.88,1)">18</text>
<text transform="translate(498.9,581.3) scale(0.88,1)">2</text>
<text transform="translate(578.7,586.0) scale(0.88,1)">1</text>
<text transform="translate(298.8,648.7) scale(0.88,1)">15</text>
<text transform="translate(350.6,648.7) scale(0.88,1)">17</text>
<text transform="translate(569.7,862.5) scale(0.88,1)">16</text>
<text transform="translate(1166.8,740.5) scale(0.88,1)">19</text>
<text transform="translate(1167,885.2) scale(1.15,1)" style="font-size:17.6px;stroke-width:0.4px">00195567</text>
</svg>
</body></html>
